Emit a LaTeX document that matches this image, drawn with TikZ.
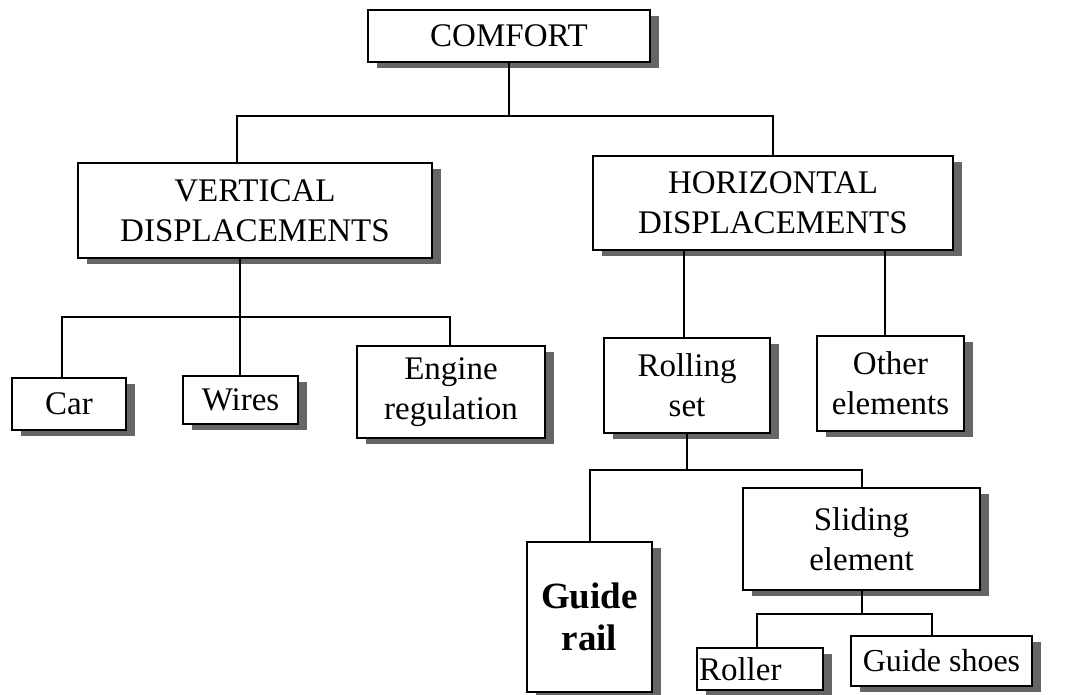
\documentclass[tikz,border=0pt]{standalone}
\usepackage{fontspec}
\setmainfont{Liberation Serif}
\usetikzlibrary{shadows}
\begin{document}
\begin{tikzpicture}[x=1pt,y=-1pt,
  box/.style={draw, line width=1.6pt, fill=white, inner sep=0pt, align=center,
    font=\fontsize{33}{40}\selectfont,
    general shadow={fill=black!60, shadow xshift=9pt, shadow yshift=-6pt}},
  wire/.style={line width=1.6pt}]
\useasboundingbox (0,0) rectangle (1091,695);

% nodes
\node[box, minimum width=282, minimum height=52] (comfort) at (509,36) {COMFORT};
\node[box, minimum width=354, minimum height=95] (vert) at (255,210.5) {VERTICAL\\DISPLACEMENTS};
\node[box, minimum width=360, minimum height=94] (horiz) at (773,203) {HORIZONTAL\\DISPLACEMENTS};
\node[box, minimum width=114, minimum height=52] (car) at (69,404) {Car};
\node[box, minimum width=115, minimum height=48] (wires) at (240.5,400) {Wires};
\node[box, minimum width=188, minimum height=92] (engine) at (451,392) {Engine\\regulation};
\node[box, minimum width=166, minimum height=95] (rolling) at (687,385.5) {Rolling\\set};
\node[box, minimum width=147, minimum height=95] (other) at (890.5,383.5) {Other\\elements};
\node[box, minimum width=125, minimum height=150, font=\bfseries\fontsize{37}{42}\selectfont] (rail) at (589.5,617) {Guide\\rail};
\node[box, minimum width=237, minimum height=102] (sliding) at (861.5,539) {Sliding\\element};
\node[box, minimum width=126, minimum height=42, text width=122pt, align=left, inner xsep=2pt] (roller) at (760,669) {Roller};
\node[box, minimum width=181, minimum height=50, font=\fontsize{32}{38}\selectfont] (shoes) at (941.5,661) {Guide shoes};

% bus coordinates
\coordinate (b1) at (509,116);
\coordinate (b1l) at (237,116);
\coordinate (b1r) at (773,116);
\coordinate (b2) at (240,317);
\coordinate (b2l) at (62,317);
\coordinate (b2m) at (240,317);
\coordinate (b2r) at (450,317);
\coordinate (h1) at (684,250);
\coordinate (h2) at (885,250);
\coordinate (b3) at (687,470);
\coordinate (b3l) at (590,470);
\coordinate (b3r) at (862,470);
\coordinate (b4) at (862,614);
\coordinate (b4l) at (757,614);
\coordinate (b4r) at (932,614);

% connectors
\draw[wire] (comfort.south) -- (b1);
\draw[wire] (vert.north -| b1l) -- (b1l) -- (b1r) -- (horiz.north);
\draw[wire] (vert.south -| b2) -- (b2);
\draw[wire] (car.north -| b2l) -- (b2l) -- (b2r) -- (engine.north -| b2r);
\draw[wire] (b2m) -- (wires.north -| b2m);
\draw[wire] (h1) -- (rolling.north -| h1);
\draw[wire] (h2) -- (other.north -| h2);
\draw[wire] (rolling.south -| b3) -- (b3);
\draw[wire] (rail.north -| b3l) -- (b3l) -- (b3r) -- (sliding.north -| b3r);
\draw[wire] (sliding.south -| b4) -- (b4);
\draw[wire] (roller.north -| b4l) -- (b4l) -- (b4r) -- (shoes.north -| b4r);
\end{tikzpicture}
\end{document}
